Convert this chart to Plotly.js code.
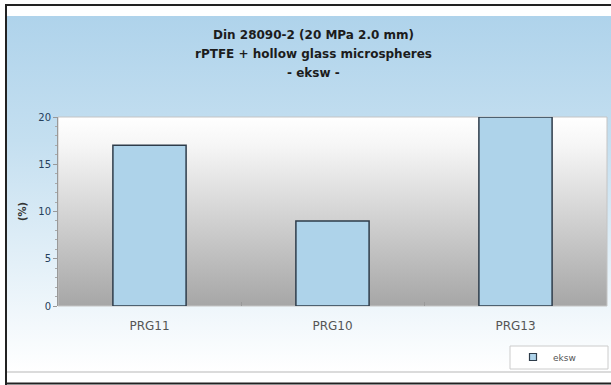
<!DOCTYPE html>
<html>
<head>
<meta charset="utf-8">
<script src="https://cdn.plot.ly/plotly-3.0.1.min.js"></script>
<style>
  html, body { margin: 0; padding: 0; background: #ffffff; }
  #chart { width: 611px; height: 385px; }
</style>
</head>
<body>
<div id="chart"></div>
<script>
// Compression set per sample
const samples = ['PRG11', 'PRG10', 'PRG13'];
const compressionSet = [17, 9, 20];
const seriesName = 'eksw';
const yTicks = [0, 5, 10, 15, 20];
const titleLines = ['Din 28090-2 (20 MPa 2.0 mm)', 'rPTFE + hollow glass microspheres', '- eksw -'];

const W = 611, H = 385;
const M = { l: 58, r: 4, t: 117, b: 79 };
const pw = W - M.l - M.r, ph = H - M.t - M.b;
const FONT = 'DejaVu Sans, Verdana, sans-serif';

// vertical gradient rendered into a data URI for use as a layout image
function gradient(w, h, stops) {
  const c = document.createElement('canvas');
  c.width = w; c.height = h;
  const g = c.getContext('2d');
  const lg = g.createLinearGradient(0, 0, 0, h);
  stops.forEach(s => lg.addColorStop(s[0], s[1]));
  g.fillStyle = lg;
  g.fillRect(0, 0, w, h);
  return c.toDataURL('image/png');
}

// helpers converting pixel positions to paper fractions
const px = x => (x - M.l) / pw;
const py = y => (H - M.b - y) / ph;

const paperBg = gradient(605, 356, [[0, '#afd3eb'], [0.35, '#c4dff0'], [1, '#ffffff']]);
const plotBg = gradient(549, 189, [[0, '#ffffff'], [0.15, '#f6f6f6'], [1, '#a6a6a6']]);

const bars = {
  type: 'bar',
  name: seriesName,
  x: samples,
  y: compressionSet,
  width: 0.4,
  marker: { color: '#aed3ea', line: { color: '#2e3c4a', width: 1.5 } },
  showlegend: false,
  hoverinfo: 'x+y'
};

// legend key for the series (small square swatch)
const key = {
  type: 'scatter', mode: 'markers',
  name: seriesName,
  x: [null], y: [null],
  marker: { symbol: 'square', size: 7, color: '#aed3ea', line: { color: '#2e3c4a', width: 1.2 } },
  showlegend: true
};

const titleAnn = titleLines.map((t, i) => ({
  text: t, xref: 'paper', yref: 'paper',
  x: px(313.5), y: py(35 + i * 19), xanchor: 'center', yanchor: 'middle',
  showarrow: false,
  font: { family: FONT, size: 12, color: '#1c1c1c', weight: 'bold' }
}));

const layout = {
  width: W, height: H,
  margin: M,
  paper_bgcolor: 'rgba(0,0,0,0)',
  plot_bgcolor: 'rgba(0,0,0,0)',
  font: { family: FONT, color: '#333' },
  xaxis: {
    type: 'category',
    tickson: 'boundaries',
    ticks: 'inside', ticklen: 4, tickcolor: '#999',
    tickfont: { size: 12, color: '#555' },
    ticklabelstandoff: 11,
    showline: false, showgrid: false, zeroline: false
  },
  yaxis: {
    range: [0, 20],
    tickvals: yTicks,
    ticks: 'outside', ticklen: 4, tickcolor: '#999',
    minor: { dtick: 1, ticks: 'outside', ticklen: 2, tickcolor: '#aaa' },
    tickfont: { size: 10, color: '#26405c' },
    showline: true, linecolor: '#999', linewidth: 1,
    showgrid: false, zeroline: false,
    title: { text: '(%)', font: { size: 10, color: '#333', weight: 'bold' }, standoff: 9 }
  },
  showlegend: true,
  legend: {
    x: px(513), xanchor: 'left', y: py(357), yanchor: 'middle',
    bgcolor: 'rgba(0,0,0,0)', borderwidth: 0,
    font: { family: FONT, size: 9, color: '#555' },
    itemwidth: 30
  },
  annotations: titleAnn,
  images: [
    { source: paperBg, xref: 'paper', yref: 'paper', x: px(6), y: py(16),
      sizex: 605 / pw, sizey: 356 / ph, xanchor: 'left', yanchor: 'top',
      sizing: 'stretch', layer: 'below' },
    { source: plotBg, xref: 'paper', yref: 'paper', x: 0, y: 1,
      sizex: 1, sizey: 1, xanchor: 'left', yanchor: 'top',
      sizing: 'stretch', layer: 'below' }
  ],
  shapes: [
    // outer frame
    { type: 'line', xref: 'paper', yref: 'paper', x0: px(5), x1: px(611), y0: py(5), y1: py(5),
      line: { color: '#222', width: 2 } },
    { type: 'line', xref: 'paper', yref: 'paper', x0: px(6), x1: px(6), y0: py(4), y1: py(385),
      line: { color: '#222', width: 2 } },
    { type: 'line', xref: 'paper', yref: 'paper', x0: px(5), x1: px(611), y0: py(383.5), y1: py(383.5),
      line: { color: '#222', width: 2 } },
    { type: 'line', xref: 'paper', yref: 'paper', x0: px(7), x1: px(611), y0: py(372), y1: py(372),
      line: { color: '#cfcfcf', width: 1.5 } },
    // plot area edge
    { type: 'rect', xref: 'paper', yref: 'paper', x0: 0, x1: 1, y0: 0, y1: 1,
      line: { color: '#c4c4c4', width: 1 }, layer: 'below' },
    // legend box
    { type: 'rect', xref: 'paper', yref: 'paper', x0: px(510), x1: px(608), y0: py(346), y1: py(369),
      fillcolor: '#ffffff', line: { color: '#cccccc', width: 1 }, layer: 'below' }
  ]
};

Plotly.newPlot('chart', [bars, key], layout, { displayModeBar: false, staticPlot: true });
</script>
</body>
</html>
